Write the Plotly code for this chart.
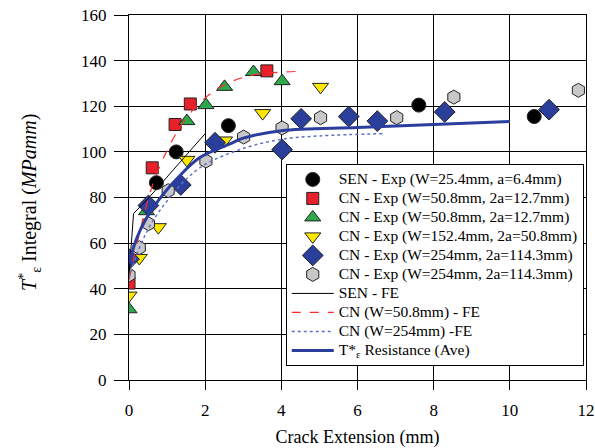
import plotly.graph_objects as go

# ---- data ----
sen_x = [0.72, 1.24, 2.61, 7.61, 10.64]
sen_y = [86.5, 100.0, 111.5, 120.5, 115.5]

cn508a_x = [0.0, 0.61, 1.21, 1.61, 3.62]
cn508a_y = [42.5, 93.0, 112.0, 121.0, 135.5]

cn508b_x = [0.0, 0.46, 1.52, 2.02, 2.51, 3.27, 4.02]
cn508b_y = [31.0, 74.0, 113.5, 120.5, 128.5, 135.0, 131.0]

cn1524_x = [0.0, 0.27, 0.77, 1.52, 2.51, 3.51, 5.03]
cn1524_y = [37.0, 53.5, 67.0, 96.5, 105.0, 117.0, 128.5]

cn254a_x = [0.0, 0.51, 1.36, 2.26, 4.02, 4.52, 5.77, 6.52, 8.29, 11.03]
cn254a_y = [53.0, 76.5, 85.5, 104.0, 101.0, 114.5, 115.5, 113.5, 117.5, 118.5]

cn254b_x = [0.0, 0.27, 0.51, 1.03, 2.02, 3.01, 4.02, 5.03, 7.03, 8.53, 11.8]
cn254b_y = [46.0, 58.0, 68.5, 83.0, 96.0, 106.5, 110.5, 115.0, 115.0, 124.0, 127.0]

sen_fe_x = [0.0, 0.12, 0.5, 1.0, 1.5, 2.0]
sen_fe_y = [46.0, 73.0, 79.5, 89.0, 98.5, 108.0]

cn508_fe_x = [0.0, 0.3, 0.63, 1.07, 1.47, 1.86, 2.4, 3.2, 4.5]
cn508_fe_y = [44.0, 66.0, 86.0, 103.0, 114.0, 121.5, 128.5, 133.5, 135.3]

cn254_fe_x = [0.0, 0.3, 0.6, 1.0, 1.5, 2.0, 3.0, 4.0, 5.0, 6.7]
cn254_fe_y = [45.0, 59.0, 69.0, 78.5, 88.0, 94.5, 101.5, 105.5, 107.0, 108.0]

ave_x = [0.0, 0.2, 0.46, 0.9, 1.3, 1.86, 2.65, 3.0, 4.0, 6.0, 8.0, 10.0]
ave_y = [51.0, 62.0, 71.0, 81.5, 89.0, 97.5, 103.5, 106.0, 109.3, 110.7, 112.0, 113.3]

x_ticks = [0, 2, 4, 6, 8, 10, 12]
y_ticks = [0, 20, 40, 60, 80, 100, 120, 140, 160]

FONT = "Liberation Serif"

def lg(t):
    return '<span style="font-size:15.5px">' + t + '</span>'

fig = go.Figure()

def mk(x, y, name, symbol, color, size):
    fig.add_trace(go.Scatter(
        x=x, y=y, mode="markers", name=lg(name),
        marker=dict(symbol=symbol, color=color, size=size,
                    line=dict(color="#222222", width=1))))

mk(sen_x, sen_y, "SEN - Exp (W=25.4mm, a=6.4mm)", "circle", "black", 14)
mk(cn508a_x, cn508a_y, "CN - Exp (W=50.8mm, 2a=12.7mm)", "square", "#E8202A", 12)
mk(cn508b_x, cn508b_y, "CN - Exp (W=50.8mm, 2a=12.7mm)", "triangle-up", "#2DA84A", 14)
mk(cn1524_x, cn1524_y, "CN - Exp (W=152.4mm, 2a=50.8mm)", "triangle-down", "#FFE800", 14)
mk(cn254a_x, cn254a_y, "CN - Exp (W=254mm, 2a=114.3mm)", "diamond", "#2A3F9A", 16)
mk(cn254b_x, cn254b_y, "CN - Exp (W=254mm, 2a=114.3mm)", "hexagon", "#C8C8C8", 14)

fig.add_trace(go.Scatter(x=sen_fe_x, y=sen_fe_y, mode="lines", name=lg("SEN - FE"),
                         line=dict(color="black", width=1)))
fig.add_trace(go.Scatter(x=cn508_fe_x, y=cn508_fe_y, mode="lines", name=lg("CN (W=50.8mm) - FE"),
                         line=dict(color="#FF2A2A", width=1.2, dash="dash", shape="spline")))
fig.add_trace(go.Scatter(x=cn254_fe_x, y=cn254_fe_y, mode="lines", name=lg("CN (W=254mm) -FE"),
                         line=dict(color="#6070C8", width=1.5, dash="dot", shape="spline")))
fig.add_trace(go.Scatter(x=ave_x, y=ave_y, mode="lines",
                         name=lg("T*<sub>ε</sub> Resistance (Ave)"),
                         line=dict(color="#2B3E9E", width=3, shape="spline")))

axis_common = dict(showline=True, linecolor="black", linewidth=1, mirror=True,
                   showgrid=True, gridcolor="black", gridwidth=1,
                   ticks="outside", tickcolor="black", automargin=False,
                   ticklabeloverflow="allow",
                   tickfont=dict(family=FONT, size=17, color="black"),
                   zeroline=False)

fig.update_xaxes(range=[0, 12], tickvals=x_ticks, ticklen=9, ticklabelstandoff=6,
                 title=dict(text="Crack Extension (mm)", font=dict(family=FONT, size=18, color="black"),
                            standoff=12),
                 **axis_common)
fig.update_yaxes(range=[0, 160], tickvals=y_ticks, ticklen=14, ticklabelstandoff=4,
                 **axis_common)

fig.add_annotation(
    text="<i>T</i><sup>*</sup><sub>ε</sub> Integral (<i>MPamm</i>)",
    xref="paper", yref="paper", x=-0.2166, y=0.485, xanchor="center", yanchor="middle",
    textangle=-90, showarrow=False,
    font=dict(family=FONT, size=20, color="black"))

fig.update_layout(
    width=595, height=448,
    margin=dict(l=129, r=9, t=15, b=68),
    plot_bgcolor="white", paper_bgcolor="white",
    font=dict(family=FONT, color="black"),
    legend=dict(x=0.343, y=0.592, xanchor="left", yanchor="top",
                bgcolor="white", bordercolor="black", borderwidth=1,
                font=dict(family=FONT, size=11, color="black"),
                tracegroupgap=0, itemwidth=42),
    showlegend=True,
)

fig.write_html("out.html", config={"displayModeBar": False},
               post_script="document.body.style.margin='0';")
